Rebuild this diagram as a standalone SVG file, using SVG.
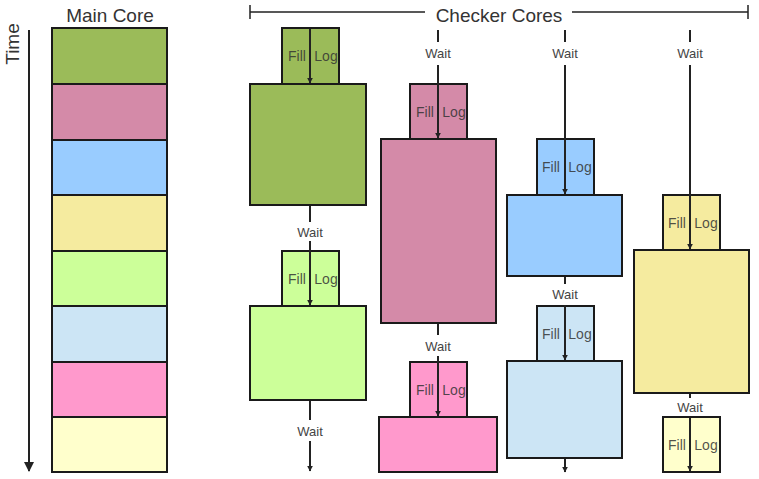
<svg xmlns="http://www.w3.org/2000/svg" width="759" height="479" viewBox="0 0 759 479">
<defs>
<marker id="ah" viewBox="0 0 10 10" refX="9" refY="5" markerWidth="6" markerHeight="6" orient="auto" markerUnits="userSpaceOnUse">
<path d="M0,0 L10,5 L0,10 z" fill="#222"/>
</marker>
<marker id="ahb" viewBox="0 0 10 10" refX="9" refY="5" markerWidth="10" markerHeight="10" orient="auto" markerUnits="userSpaceOnUse">
<path d="M0,0 L10,5 L0,10 z" fill="#222"/>
</marker>
</defs>
<style>
rect{stroke:#1a1a1a;stroke-width:2}
text{font-family:"Liberation Sans",Arial,sans-serif}
.t{font-size:13px;fill:#444;text-anchor:middle}
.fl{font-size:14px;fill:#333;fill-opacity:0.85;text-anchor:middle}
.h{font-size:19px;fill:#333;text-anchor:middle}
.ln{stroke:#222;stroke-width:2;fill:none}
.c1{fill:#9BBB59}.c2{fill:#D48AA8}.c3{fill:#99CCFF}.c4{fill:#F5EB9F}
.c5{fill:#CCFF99}.c6{fill:#CCE5F5}.c7{fill:#FF99CC}.c8{fill:#FFFFCC}
</style>
<rect width="759" height="479" fill="#fff" style="stroke:none"/>
<text class="h" x="110" y="22">Main Core</text>
<text class="h" x="0" y="0" transform="translate(19,44) rotate(-90)">Time</text>
<text class="h" x="499" y="22">Checker Cores</text>
<g id="main">
<rect class="c1" x="52" y="28" width="115" height="56"/>
<rect class="c2" x="52" y="84" width="115" height="56"/>
<rect class="c3" x="52" y="140" width="115" height="55"/>
<rect class="c4" x="52" y="195" width="115" height="56"/>
<rect class="c5" x="52" y="251" width="115" height="55"/>
<rect class="c6" x="52" y="306" width="115" height="56"/>
<rect class="c7" x="52" y="362" width="115" height="55"/>
<rect class="c8" x="52" y="417" width="115" height="55"/>
</g>
<g id="c1a"><rect class="c1" x="282" y="28" width="57" height="56"/><text class="fl" x="297" y="61">Fill</text><text class="fl" x="326" y="61">Log</text></g>
<g id="c1b"><rect class="c1" x="250" y="84" width="116" height="121"/></g>
<g id="c1c"><rect class="c5" x="282" y="251" width="57" height="55"/><text class="fl" x="297" y="284">Fill</text><text class="fl" x="326" y="284">Log</text></g>
<g id="c1d"><rect class="c5" x="250" y="306" width="116" height="94"/></g>
<g id="c2a"><rect class="c2" x="410" y="84" width="57" height="55"/><text class="fl" x="425" y="117">Fill</text><text class="fl" x="454" y="117">Log</text></g>
<g id="c2b"><rect class="c2" x="381" y="139" width="115" height="184"/></g>
<g id="c2c"><rect class="c7" x="410" y="362" width="57" height="55"/><text class="fl" x="425" y="395">Fill</text><text class="fl" x="454" y="395">Log</text></g>
<g id="c2d"><rect class="c7" x="379" y="417" width="118" height="55"/></g>
<g id="c3a"><rect class="c3" x="537" y="139" width="57" height="56"/><text class="fl" x="551" y="172">Fill</text><text class="fl" x="580" y="172">Log</text></g>
<g id="c3b"><rect class="c3" x="507" y="195" width="115" height="81"/></g>
<g id="c3c"><rect class="c6" x="537" y="306" width="57" height="55"/><text class="fl" x="551" y="339">Fill</text><text class="fl" x="580" y="339">Log</text></g>
<g id="c3d"><rect class="c6" x="507" y="361" width="115" height="97"/></g>
<g id="c4a"><rect class="c4" x="663" y="195" width="57" height="55"/><text class="fl" x="677" y="228">Fill</text><text class="fl" x="706" y="228">Log</text></g>
<g id="c4b"><rect class="c4" x="634" y="250" width="115" height="143"/></g>
<g id="c4c"><rect class="c8" x="663" y="417" width="57" height="55"/><text class="fl" x="677" y="450">Fill</text><text class="fl" x="706" y="450">Log</text></g>
<g id="labels">
<text class="t" x="310" y="237">Wait</text>
<text class="t" x="310" y="436">Wait</text>
<text class="t" x="438" y="58">Wait</text>
<text class="t" x="438" y="351">Wait</text>
<text class="t" x="565" y="58">Wait</text>
<text class="t" x="565" y="299">Wait</text>
<text class="t" x="690" y="58">Wait</text>
<text class="t" x="690" y="412">Wait</text>
</g>
<g id="connectors">
<path class="ln" d="M29,30 V471" marker-end="url(#ahb)"/>
<path class="ln" d="M250,12 H425 M572,12 H748 M250,5 V19 M748,5 V19" style="stroke-width:1.5"/>
<path class="ln" d="M310,29 V83" marker-end="url(#ah)"/>
<path class="ln" d="M310,206 V222"/>
<path class="ln" d="M310,241 V305" marker-end="url(#ah)"/>
<path class="ln" d="M310,401 V420"/>
<path class="ln" d="M310,441 V471" marker-end="url(#ah)"/>
<path class="ln" d="M438,30 V42"/>
<path class="ln" d="M438,65 V138" marker-end="url(#ah)"/>
<path class="ln" d="M438,324 V335"/>
<path class="ln" d="M438,356 V416" marker-end="url(#ah)"/>
<path class="ln" d="M565,30 V42"/>
<path class="ln" d="M565,65 V194" marker-end="url(#ah)"/>
<path class="ln" d="M565,277 V284"/>
<path class="ln" d="M565,305 V360" marker-end="url(#ah)"/>
<path class="ln" d="M565,459 V472" marker-end="url(#ah)"/>
<path class="ln" d="M690,30 V42"/>
<path class="ln" d="M690,65 V249" marker-end="url(#ah)"/>
<path class="ln" d="M690,394 V398"/>
<path class="ln" d="M690,418 V471" marker-end="url(#ah)"/>
</g>
</svg>
